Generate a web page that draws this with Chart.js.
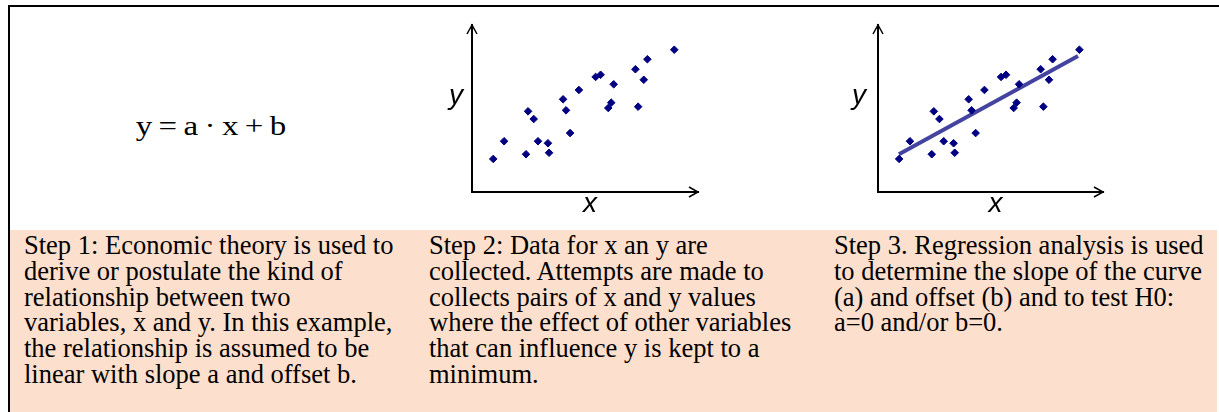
<!DOCTYPE html>
<html>
<head>
<meta charset="utf-8">
<script src="https://cdn.jsdelivr.net/npm/chart.js@4/dist/chart.umd.min.js"></script>
<style>
  body { margin: 0; width: 1219px; height: 412px; overflow: hidden; background: #fff; position: relative; }
  #frame { position: absolute; left: 8px; top: 5px; width: 1211px; height: 407px;
           border-top: 2px solid #000; border-left: 2px solid #000; box-sizing: border-box; }
  #band { position: absolute; left: 10px; top: 230px; width: 1207px; height: 182px; background: #fddfcd; }
  .col { position: absolute; top: 233px; font: 26.5px "Liberation Serif", "Times New Roman", serif;
         line-height: 25.8px; color: #000; white-space: nowrap; }
  #formula { position: absolute; left: 0; width: 422px; top: 113px; text-align: center;
             font: 27px "Liberation Serif", "Times New Roman", serif; line-height: 27px; word-spacing: -1.5px;
             transform: scaleX(1.22); transform-origin: 211px 50%; }
  canvas { position: absolute; }
</style>
</head>
<body>
<div id="frame"></div>
<div id="band"></div>
<div id="formula">y = a · x + b</div>
<div class="col" style="left:24px">Step 1: Economic theory is used to<br>derive or postulate the kind of<br>relationship between two<br>variables, x and y. In this example,<br>the relationship is assumed to be<br>linear with slope a and offset b.</div>
<div class="col" style="left:429px">Step 2: Data for x an y are<br>collected. Attempts are made to<br>collects pairs of x and y values<br>where the effect of other variables<br>that can influence y is kept to a<br>minimum.</div>
<div class="col" style="left:834px">Step 3. Regression analysis is used<br>to determine the slope of the curve<br>(a) and offset (b) and to test H0:<br>a=0 and/or b=0.</div>
<canvas id="dataChart" width="280" height="210" style="left:440px;top:10px"></canvas>
<canvas id="fitChart" width="280" height="210" style="left:840px;top:10px"></canvas>
<script>
const xValues = [9.4, 14.2, 23.9, 24.8, 27.3, 29.2, 33.6, 34.1, 40.3, 41.6, 43.4,
                 47.3, 54.7, 56.9, 60.3, 61.6, 62.7, 72.3, 73.5, 76.0, 77.6, 89.5];
const yValues = [19.8, 30.4, 22.6, 48.3, 43.7, 30.4, 29.2, 23.5, 55.5, 48.9, 35.3,
                 61.1, 68.9, 70.2, 50.3, 53.5, 64.5, 73.5, 51.1, 67.2, 79.5, 85.2];
// regression line end points
const fitX = [9.3, 88.9];
const fitY = [22.6, 81.4];
const xLabel = "x";
const yLabel = "y";

const points = xValues.map((x, i) => ({ x: x, y: yValues[i] }));
const fitLine = fitX.map((x, i) => ({ x: x, y: fitY[i] }));

/* ---------- arrows + axis letters ---------- */
const arrowAxes = {
    id: "arrowAxes",
    afterDraw(chart, args, opts) {
        const ctx = chart.ctx;
        const a = chart.chartArea;
        ctx.save();
        ctx.strokeStyle = "#000";
        ctx.lineWidth = 1.5;
        ctx.beginPath();
        ctx.moveTo(a.right - 9, a.bottom - 5);
        ctx.lineTo(a.right, a.bottom);
        ctx.lineTo(a.right - 9, a.bottom + 5);
        ctx.moveTo(a.left - 5, a.top + 9);
        ctx.lineTo(a.left, a.top);
        ctx.lineTo(a.left + 5, a.top + 9);
        ctx.stroke();

        ctx.fillStyle = "#000";
        ctx.font = "italic 28px 'Liberation Sans', Arial, sans-serif";
        ctx.textAlign = "center";
        ctx.textBaseline = "alphabetic";
        ctx.fillText(xLabel, (a.left + a.right) / 2 + 5, a.bottom + 20);
        ctx.fillText(yLabel, a.left - opts.yOffset, a.top + 79);
        ctx.restore();
    }
};

function makeScales() {
    const common = {
        min: 0, max: 100,
        ticks: { display: false },
        grid: { display: false, drawTicks: false },
        border: { display: true, color: "#000", width: 2 },
        afterFit(scale) {
            if (scale.isHorizontal()) scale.height = 0; else scale.width = 0;
        }
    };
    return { x: Object.assign({ type: "linear" }, common), y: Object.assign({ type: "linear" }, common) };
}

const pointSet = {
    type: "scatter",
    data: points,
    pointStyle: "rectRot",
    pointRadius: 3.8,
    pointBackgroundColor: "#000080",
    pointBorderColor: "#000080",
    pointBorderWidth: 1,
    order: 0
};

new Chart(document.getElementById("dataChart"), {
    type: "scatter",
    data: { datasets: [Object.assign({}, pointSet)] },
    options: {
        responsive: false,
        animation: false,
        layout: { padding: { left: 32, top: 15, right: 22, bottom: 28 } },
        plugins: { legend: { display: false }, tooltip: { enabled: false }, arrowAxes: { yOffset: 16 } },
        scales: makeScales()
    },
    plugins: [arrowAxes]
});

new Chart(document.getElementById("fitChart"), {
    type: "scatter",
    data: {
        datasets: [
            Object.assign({}, pointSet),
            {
                type: "line",
                data: fitLine,
                borderColor: "#4444a0",
                borderWidth: 4,
                pointRadius: 0,
                fill: false,
                order: 1
            }
        ]
    },
    options: {
        responsive: false,
        animation: false,
        layout: { padding: { left: 38, top: 15, right: 17, bottom: 28 } },
        plugins: { legend: { display: false }, tooltip: { enabled: false }, arrowAxes: { yOffset: 19 } },
        scales: makeScales()
    },
    plugins: [arrowAxes]
});
</script>
</body>
</html>
